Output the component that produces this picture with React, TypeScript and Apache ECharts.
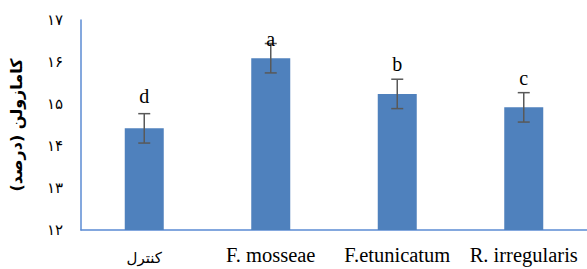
import React, { useEffect, useRef } from "react";
import * as echarts from "echarts";

const categories = ["کنترل", "F. mosseae", "F.etunicatum", "R. irregularis"];
const values = [14.42, 16.09, 15.24, 14.92];
const errors = [0.35, 0.35, 0.35, 0.35];
const letters = ["d", "a", "b", "c"];
const yTickLabels = ["۱۲", "۱۳", "۱۴", "۱۵", "۱۶", "۱۷"];
const yAxisTitle = "کامازولن (درصد)";
const letterGaps = [8, -5, 5, 5];

export default function App() {
  const ref = useRef<HTMLDivElement>(null);
  useEffect(() => {
    if (!ref.current) return;
    const chart = echarts.init(ref.current, undefined, { renderer: "svg" });
    const axisColor = "#5b8bd3";
    chart.setOption({
      animation: false,
      grid: { left: 81, top: 20, right: -6, bottom: 39 },
      xAxis: {
        type: "category",
        data: categories.map((c, i) =>
          i === 0
            ? { value: c, textStyle: { fontFamily: "DejaVu Sans", fontSize: 15, padding: [6, 0, 0, 0] } }
            : c
        ),
        axisLine: { show: true, lineStyle: { color: axisColor, width: 1.5 } },
        axisTick: { show: false },
        axisLabel: {
          color: "#000",
          fontFamily: "Liberation Serif, DejaVu Sans",
          fontSize: 20.5,
          margin: 14,
          interval: 0,
        },
      },
      yAxis: {
        type: "value",
        min: 12,
        max: 17,
        interval: 1,
        splitLine: { show: false },
        axisTick: { show: false },
        axisLine: { show: true, lineStyle: { color: axisColor, width: 1.5 } },
        axisLabel: {
          color: "#000",
          fontFamily: "DejaVu Sans",
          fontSize: 15,
          margin: 18,
          formatter: (v: number) => yTickLabels[Math.round(v - 12)],
        },
        name: yAxisTitle,
        nameLocation: "middle",
        nameRotate: 90,
        nameGap: 57,
        nameTextStyle: {
          color: "#000",
          fontFamily: "DejaVu Sans",
          fontSize: 16,
          fontWeight: "bold",
        },
      },
      series: [
        {
          type: "bar",
          data: values,
          barWidth: 39,
          itemStyle: { color: "#4f81bd" },
        },
        {
          type: "custom",
          data: values.map((v, i) => [i, v, errors[i]]),
          z: 10,
          renderItem: (params: any, api: any) => {
            const idx = api.value(0);
            const v = api.value(1);
            const e = api.value(2);
            const top = api.coord([idx, v + e]);
            const bot = api.coord([idx, v - e]);
            const x = top[0];
            const cap = 6;
            const style = { stroke: "#595959", lineWidth: 1.5 };
            return {
              type: "group",
              children: [
                { type: "line", shape: { x1: x, y1: top[1], x2: x, y2: bot[1] }, style },
                { type: "line", shape: { x1: x - cap, y1: top[1], x2: x + cap, y2: top[1] }, style },
                { type: "line", shape: { x1: x - cap, y1: bot[1], x2: x + cap, y2: bot[1] }, style },
                {
                  type: "text",
                  x: x,
                  y: top[1] - letterGaps[params.dataIndex],
                  style: {
                    text: letters[params.dataIndex],
                    fill: "#000",
                    font: "20px 'Liberation Serif'",
                    align: "center",
                    verticalAlign: "bottom",
                  },
                },
              ],
            };
          },
        },
      ],
    });
    return () => chart.dispose();
  }, []);
  return (
    <div
      ref={ref}
      style={{ position: "fixed", left: 0, top: 0, width: 587, height: 269, background: "#fff" }}
    />
  );
}
